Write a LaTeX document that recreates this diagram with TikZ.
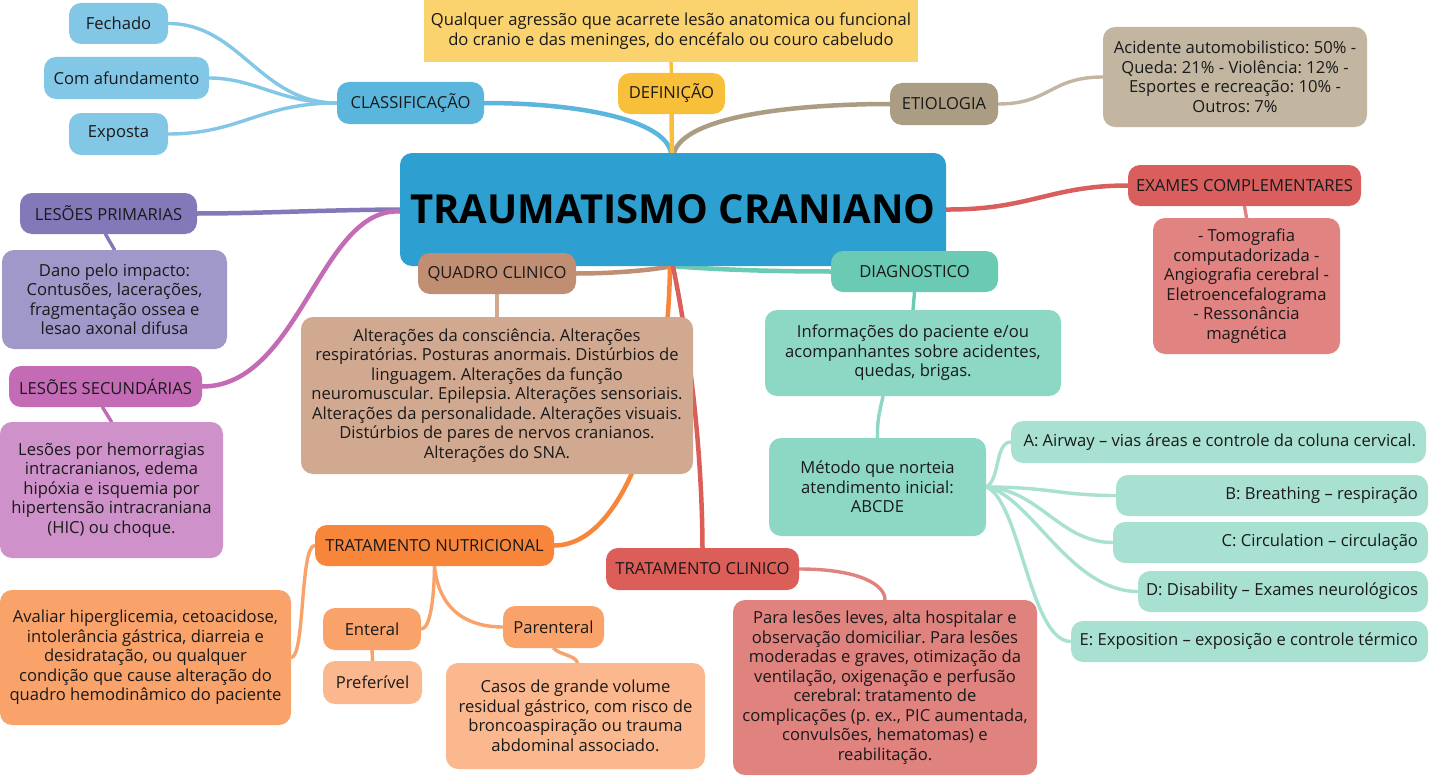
\documentclass[tikz,border=0pt]{standalone}
\usepackage{fontspec}
\setmainfont{Open Sans}
\frenchspacing
\definecolor{txt}{HTML}{1A1A1A}
\definecolor{cdefbox}{HTML}{FAD36F}
\definecolor{cdef}{HTML}{F8BF3A}
\definecolor{cclass}{HTML}{5BB6DD}
\definecolor{cclassl}{HTML}{82C7E5}
\definecolor{cetio}{HTML}{AB9D83}
\definecolor{cetiol}{HTML}{C2B6A1}
\definecolor{ccentral}{HTML}{2D9FD0}
\definecolor{cexam}{HTML}{D95F5E}
\definecolor{cexaml}{HTML}{E08381}
\definecolor{clp}{HTML}{8379B9}
\definecolor{clpl}{HTML}{A198CA}
\definecolor{cls}{HTML}{C36CB5}
\definecolor{clsl}{HTML}{CF91C9}
\definecolor{cquad}{HTML}{C08F73}
\definecolor{cquadl}{HTML}{D1A991}
\definecolor{cdiag}{HTML}{6BCAB3}
\definecolor{cdiagl}{HTML}{8DD7C5}
\definecolor{cabc}{HTML}{A8E0D2}
\definecolor{cnutr}{HTML}{F7853A}
\definecolor{cnutrl}{HTML}{F9A36B}
\definecolor{cnutrll}{HTML}{FBB88E}
\definecolor{cclin}{HTML}{DB5E59}
\definecolor{cclinl}{HTML}{E0827E}
\pgfdeclarelayer{links}
\pgfsetlayers{links,main}
\newcommand\rtxt[2]{\hbox to #1{\hss #2}}
\tikzset{
  bx/.style={rounded corners=12pt, inner sep=0pt, align=center, text=txt,
    font=\fontsize{16.6}{19.5}\selectfont\frenchspacing},
  abc/.style={bx, fill=cabc, minimum height=41pt},
  link/.style={line width=4.5pt, line cap=round},
  sublink/.style={line width=3.4pt, line cap=round},
}
\begin{document}
\begin{tikzpicture}[x=1pt,y=-1pt]
\useasboundingbox (0,0) rectangle (1430,776);
% nodes
\node[bx, rounded corners=0pt, fill=cdefbox, minimum width=494pt, minimum height=62pt] (defbox) at (671,31) {Qualquer agressão que acarrete lesão anatomica ou funcional\\do cranio e das meninges, do encéfalo ou couro cabeludo};
\node[bx, fill=cdef, minimum width=107pt, minimum height=41pt] (def) at (671.5,93.5) {DEFINIÇÃO};
\node[bx, fill=cclass, minimum width=147pt, minimum height=42pt] (classif) at (410.5,103) {CLASSIFICAÇÃO};
\node[bx, fill=cclassl, minimum width=99pt, minimum height=41pt] (fechado) at (118.5,23.5) {Fechado};
\node[bx, fill=cclassl, minimum width=165pt, minimum height=42pt] (afund) at (126.5,78) {Com afundamento};
\node[bx, fill=cclassl, minimum width=99pt, minimum height=42pt] (exposta) at (118.5,134) {Exposta};
\node[bx, fill=cetio, minimum width=108pt, minimum height=42pt] (etiol) at (944,104) {ETIOLOGIA};
\node[bx, fill=cetiol, minimum width=264pt, minimum height=100pt] (etioltxt) at (1235,77) {Acidente automobilistico: 50\% -\\Queda: 21\% - Violência: 12\% -\\Esportes e recreação: 10\% -\\Outros: 7\%};
\node[bx, fill=ccentral, minimum width=546pt, minimum height=113pt, text=black, font=\fontsize{40}{48}\selectfont\bfseries] (central) at (673,209.5) {TRAUMATISMO CRANIANO};
\node[bx, fill=cexam, minimum width=233pt, minimum height=41pt] (exames) at (1244.5,185.5) {EXAMES COMPLEMENTARES};
\node[bx, fill=cexaml, minimum width=187pt, minimum height=136pt] (examestxt) at (1246.5,286) {- Tomografia\\computadorizada -\\Angiografia cerebral -\\Eletroencefalograma\\- Ressonância\\magnética};
\node[bx, fill=clp, minimum width=177pt, minimum height=41pt] (lp) at (108.5,213.5) {LESÕES PRIMARIAS};
\node[bx, fill=clpl, minimum width=225pt, minimum height=99pt] (lptxt) at (114.5,299.5) {Dano pelo impacto:\\Contusões, lacerações,\\fragmentação ossea e\\lesao axonal difusa};
\node[bx, fill=cls, minimum width=193pt, minimum height=41pt] (ls) at (105.5,386.5) {LESÕES SECUNDÁRIAS};
\node[bx, fill=clsl, minimum width=223pt, minimum height=136pt] (lstxt) at (111.5,490) {Lesões por hemorragias\\intracranianos, edema\\hipóxia e isquemia por\\hipertensão intracraniana\\(HIC) ou choque.};
\node[bx, fill=cquad, minimum width=158pt, minimum height=41pt] (quadro) at (497,273.5) {QUADRO CLINICO};
\node[bx, fill=cquadl, minimum width=392pt, minimum height=157pt] (quadrotxt) at (497,395.5) {Alterações da consciência. Alterações\\respiratórias. Posturas anormais. Distúrbios de\\linguagem. Alterações da função\\neuromuscular. Epilepsia. Alterações sensoriais.\\Alterações da personalidade. Alterações visuais.\\Distúrbios de pares de nervos cranianos.\\Alterações do SNA.};
\node[bx, fill=cdiag, minimum width=167pt, minimum height=41pt] (diag) at (914.5,271.5) {DIAGNOSTICO};
\node[bx, fill=cdiagl, minimum width=296pt, minimum height=86pt] (diagtxt) at (913,353) {Informações do paciente e/ou\\acompanhantes sobre acidentes,\\quedas, brigas.};
\node[bx, fill=cdiagl, minimum width=217pt, minimum height=98pt] (metodo) at (877.5,487) {Método que norteia\\atendimento inicial:\\ABCDE};
\node[abc, minimum width=415pt, minimum height=42pt] (ca) at (1218.5,442) {\rtxt{395pt}{A: Airway – vias áreas e controle da coluna cervical.}};
\node[abc, minimum width=312pt] (cb) at (1272,495.5) {\rtxt{292pt}{B: Breathing – respiração}};
\node[abc, minimum width=315pt] (cc) at (1270.5,542.5) {\rtxt{295pt}{C: Circulation – circulação}};
\node[abc, minimum width=290pt] (cd) at (1283,591.5) {\rtxt{270pt}{D: Disability – Exames neurológicos}};
\node[abc, minimum width=357pt] (ce) at (1249.5,641.5) {\rtxt{337pt}{E: Exposition – exposição e controle térmico}};
\node[bx, fill=cnutr, minimum width=239pt, minimum height=41pt] (nutr) at (434.5,545.5) {TRATAMENTO NUTRICIONAL};
\node[bx, fill=cnutrl, minimum width=291pt, minimum height=135pt] (avaliar) at (145.5,657.5) {Avaliar hiperglicemia, cetoacidose,\\intolerância gástrica, diarreia e\\desidratação, ou qualquer\\condição que cause alteração do\\quadro hemodinâmico do paciente};
\node[bx, fill=cnutrl, minimum width=98pt, minimum height=42pt] (enteral) at (372,629) {Enteral};
\node[bx, fill=cnutrll, minimum width=99pt, minimum height=43pt] (pref) at (372.5,682.5) {Preferível};
\node[bx, fill=cnutrl, minimum width=101pt, minimum height=42pt] (parent) at (553.5,627) {Parenteral};
\node[bx, fill=cnutrll, minimum width=259pt, minimum height=106pt] (casos) at (575.5,716) {Casos de grande volume\\residual gástrico, com risco de\\broncoaspiração ou trauma\\abdominal associado.};
\node[bx, fill=cclin, minimum width=193pt, minimum height=42pt] (clin) at (702.5,569) {TRATAMENTO CLINICO};
\node[bx, fill=cclinl, minimum width=304pt, minimum height=175pt] (clintxt) at (885,687.5) {Para lesões leves, alta hospitalar e\\observação domiciliar. Para lesões\\moderadas e graves, otimização da\\ventilação, oxigenação e perfusão\\cerebral: tratamento de\\complicações (p. ex., PIC aumentada,\\convulsões, hematomas) e\\reabilitação.};
% connectors
\begin{pgfonlayer}{links}
\fill[white] (0,0) rectangle (1430,776);
\draw[link, cclass] ([xshift=-2pt]central.north) .. controls (665,120) and (580,103) .. (classif.east);
\draw[link, cetio] ([xshift=1pt]central.north) .. controls (685,115) and (800,104) .. (etiol.west);
\draw[link, cdef] ([xshift=-1pt]central.north) -- (def.south);
\draw[sublink, cdef] (def.north) -- (defbox.south);
\draw[sublink, cclassl] (classif.west) .. controls (260,103) and (240,23.5) .. (fechado.east);
\draw[sublink, cclassl] (classif.west) .. controls (280,103) and (255,78) .. (afund.east);
\draw[sublink, cclassl] (classif.west) .. controls (260,103) and (240,134) .. (exposta.east);
\draw[sublink, cetiol] (etiol.east) .. controls (1050,104) and (1050,77) .. (etioltxt.west);
\draw[link, cexam] (central.east) .. controls (1030,210) and (1050,185.5) .. (exames.west);
\draw[sublink, cexaml] (exames.south) -- (examestxt.north);
\draw[link, clp] (central.west) .. controls (320,210) and (260,213.5) .. (lp.east);
\draw[link, cls] ([yshift=-2pt]central.west) .. controls (320,207) and (300,386.5) .. (ls.east);
\draw[sublink, clp] ([xshift=-3pt]lp.south) -- (lptxt.north);
\draw[sublink, cls] ([xshift=-3pt]ls.south) -- (lstxt.north);
\draw[link, cquad] ([xshift=-1pt]central.south) .. controls (640,272) and (600,273.5) .. (quadro.east);
\draw[sublink, cquadl] (quadro.south) -- (quadrotxt.north);
\draw[link, cdiag] ([xshift=1pt]central.south) .. controls (720,270) and (780,271.5) .. (diag.west);
\draw[sublink, cdiag] (diag.south) -- (diagtxt.north);
\draw[sublink, cdiagl] ([xshift=-30pt]diagtxt.south) .. controls (880,410) and (877,420) .. (metodo.north);
\draw[sublink, cabc] (metodo.east) .. controls (1000,480) and (995,442) .. (ca.west);
\draw[sublink, cabc] (metodo.east) .. controls (1050,487) and (1060,495.5) .. (cb.west);
\draw[sublink, cabc] (metodo.east) .. controls (1040,490) and (1060,542.5) .. (cc.west);
\draw[sublink, cabc] (metodo.east) .. controls (1030,495) and (1070,591.5) .. (cd.west);
\draw[sublink, cabc] (metodo.east) .. controls (1020,500) and (1030,641.5) .. (ce.west);
\draw[link, cnutr] ([xshift=-3pt]central.south) .. controls (668,420) and (620,545.5) .. (nutr.east);
\draw[link, cclin] (central.south) .. controls (690,350) and (702,450) .. (clin.north);
\draw[sublink, cnutrl] (nutr.west) .. controls (300,545) and (305,657.5) .. (avaliar.east);
\draw[sublink, cnutrl] (nutr.south) .. controls (434,600) and (430,629) .. (enteral.east);
\draw[sublink, cnutrl] (nutr.south) .. controls (440,620) and (480,627) .. (parent.west);
\draw[sublink, cnutrl] (enteral.south) -- (pref.north);
\draw[sublink, cnutrl] (parent.south) .. controls (560,655) and (575,655) .. ([xshift=2pt]casos.north);
\draw[sublink, cclinl] (clin.east) .. controls (860,569) and (885,585) .. (clintxt.north);
\end{pgfonlayer}
\end{tikzpicture}
\end{document}
